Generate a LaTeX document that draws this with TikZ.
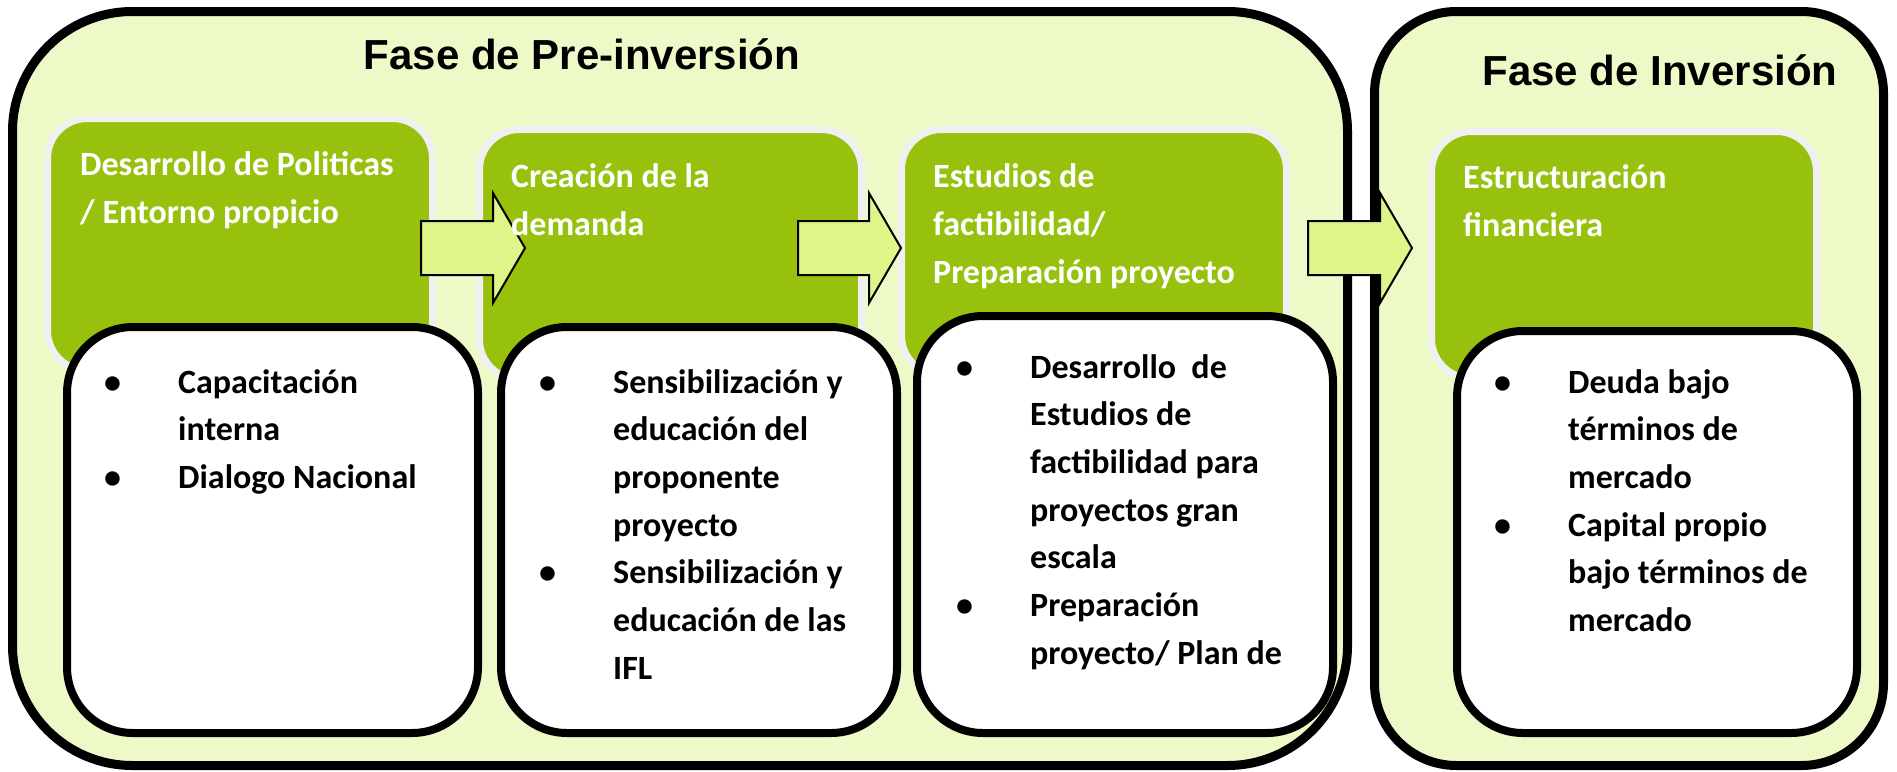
\documentclass[tikz,border=0pt]{standalone}
\usepackage{fontspec}
\setmainfont{Carlito}
\newfontfamily\titulo{Liberation Sans}
\usetikzlibrary{positioning}
\definecolor{fondo}{RGB}{237,249,199}
\definecolor{verde}{RGB}{152,193,14}
\definecolor{borde}{RGB}{240,240,240}
\definecolor{flechac}{RGB}{223,245,138}

\begin{document}
\begin{tikzpicture}[x=1pt,y=-1pt,
  fase/.style={draw,line width=9pt,fill=fondo,inner sep=0pt},
  etapa/.style={draw=borde,line width=7pt,fill=verde,inner sep=0pt,minimum width=385pt,rounded corners=40pt},
  lista/.style={draw,line width=8pt,fill=white,inner sep=0pt,rounded corners=66pt},
  titulo/.style={anchor=base,inner sep=0pt,font=\titulo\bfseries\fontsize{42}{50}\selectfont},
  etxt/.style={anchor=base west,inner sep=0pt,text=white,font=\bfseries\fontsize{34}{48}\selectfont},
  ltxt/.style={anchor=base west,inner sep=0pt,font=\bfseries\fontsize{34}{47.7}\selectfont},
  flecha/.style={draw,line width=2pt,fill=flechac,line join=miter}]

\useasboundingbox (0,0) rectangle (1897,771);
\fill[white] (0,0) rectangle (1897,771);

% fases
\node[fase] (pre) at (680,388.5) [minimum width=1335pt,minimum height=754pt,rounded corners=120pt] {};
\node[fase] (inv) at (1629,388.5) [minimum width=509pt,minimum height=754pt,rounded corners=82pt] {};
\node[titulo] (tpre) at (582,69) {Fase de Pre-inversión};
\node[titulo] (tinv) at (1660,85) {Fase de Inversión};

% etapas
\node[etapa] (e1) at (240,244.5) [minimum height=252pt] {};
\node[etapa] (e2) at (670.5,254.5) [minimum width=382pt,minimum height=250pt] {};
\node[etapa] (e3) at (1094,252.5) [minimum height=246pt] {};
\node[etapa] (e4) at (1624,255) [minimum height=247pt] {};

% flechas
\coordinate (a1) at (421,248);
\coordinate (a2) at (798,248);
\coordinate (a3) at (1308,248);
\draw[flecha] (a1) ++(0,-27) -- ++(72,0) -- ++(0,-28) -- ++(32,55) -- ++(-32,55) -- ++(0,-28) -- ++(-72,0) -- cycle;
\draw[flecha] (a2) ++(0,-27) -- ++(71,0) -- ++(0,-28) -- ++(32,55) -- ++(-32,55) -- ++(0,-28) -- ++(-71,0) -- cycle;
\draw[flecha] (a3) ++(0,-27) -- ++(72,0) -- ++(0,-28) -- ++(32,55) -- ++(-32,55) -- ++(0,-28) -- ++(-72,0) -- cycle;

\node[etxt] (te1) at (80,175) {\begin{tabular}[t]{@{}l@{}}Desarrollo de Politicas\\/ Entorno propicio\end{tabular}};
\node[etxt] (te2) at (511,187) {\begin{tabular}[t]{@{}l@{}}Creación de la\\demanda\end{tabular}};
\node[etxt] (te3) at (933,187) {\begin{tabular}[t]{@{}l@{}}Estudios de\\factibilidad/\\Preparación proyecto\end{tabular}};
\node[etxt] (te4) at (1463,188) {\begin{tabular}[t]{@{}l@{}}Estructuración\\financiera\end{tabular}};

% listas
\node[lista] (l1) at (272.5,530) [minimum width=411pt,minimum height=406pt] {};
\node[lista] (l2) at (699,530) [minimum width=396pt,minimum height=406pt] {};
\node[lista] (l3) at (1125,524.5) [minimum width=416pt,minimum height=417pt] {};
\node[lista] (l4) at (1657,532) [minimum width=400pt,minimum height=402pt] {};

\node[ltxt] (tl1) at (104,393) {\begin{tabular}[t]{@{}p{74pt}@{}l@{}}•&Capacitación\\&interna\\•&Dialogo Nacional\end{tabular}};
\node[ltxt] (tl2) at (539,393) {\begin{tabular}[t]{@{}p{74pt}@{}l@{}}•&Sensibilización y\\&educación del\\&proponente\\&proyecto\\•&Sensibilización y\\&educación de las\\&IFL\end{tabular}};
\node[ltxt] (tl3) at (956,378) {\begin{tabular}[t]{@{}p{74pt}@{}l@{}}•&Desarrollo\ \ de\\&Estudios de\\&factibilidad para\\&proyectos gran\\&escala\\•&Preparación\\&proyecto/ Plan de\end{tabular}};
\node[ltxt] (tl4) at (1494,393) {\begin{tabular}[t]{@{}p{74pt}@{}l@{}}•&Deuda bajo\\&términos de\\&mercado\\•&Capital propio\\&bajo términos de\\&mercado\end{tabular}};
\end{tikzpicture}
\end{document}
